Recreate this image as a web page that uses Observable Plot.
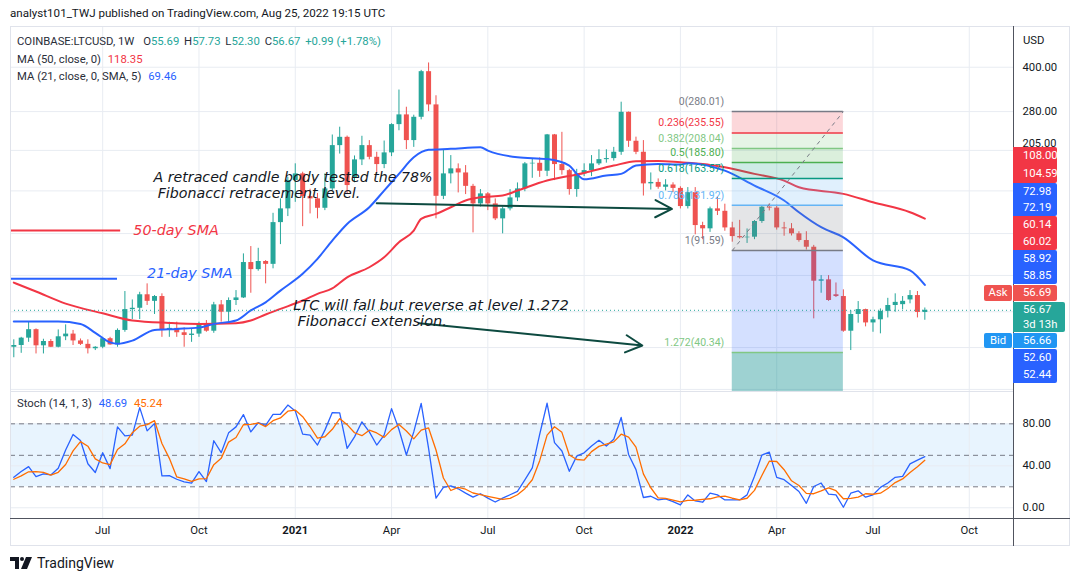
<!DOCTYPE html>
<html>
<head>
<meta charset="utf-8">
<script src="https://cdn.jsdelivr.net/npm/d3@7"></script>
<script src="https://cdn.jsdelivr.net/npm/@observablehq/plot@0.6"></script>
<style>
html,body{margin:0;padding:0;background:#fff;}
#root{position:relative;width:1079px;height:581px;overflow:hidden;background:#fff;font-family:Roboto,"Noto Sans",sans-serif;color:#131722;}
.a{position:absolute;white-space:nowrap;line-height:1;}
.box{position:absolute;color:#fff;display:flex;flex-direction:column;justify-content:space-around;font-size:11.3px;line-height:1;border-radius:0 2px 2px 0;}
.box span{padding-left:10px;}
</style>
</head>
<body>
<div id="root"></div>
<script>
// ---------------- DATA ----------------
const firstWeek = "2020-04-13"; // first weekly bar (Monday)
const open = [
42.1,42.7,45.3,48.5,42.6,44.1,42.1,45.8,46.8,44.3,
43.1,41.6,42.1,45.1,42.9,48.2,57.0,57.6,64.2,60.9,
63.3,48.4,49.0,47.3,46.3,46.8,50.9,47.9,59.2,55.8,
61.3,62.6,83.2,78.6,83.9,82.0,114.7,128.1,160.8,169.7,
141.4,138.8,128.7,150.4,213.0,227.7,165.0,189.9,213.0,193.9,
182.9,200.9,252.2,272.7,221.8,267.5,386.0,295.5,141.7,169.7,
176.7,171.0,153.5,133.3,144.5,133.3,118.2,128.1,139.9,150.4,
183.9,184.8,173.3,232.2,182.9,174.2,149.6,169.7,174.2,183.9,
190.3,191.9,201.9,278.4,220.6,201.9,156.6,158.4,152.4,155.2,
151.0,130.5,146.0,112.0,109.1,128.1,125.6,109.9,102.5,101.5,
102.0,115.7,129.8,128.9,109.9,109.1,104.8,99.3,94.1,71.6,
72.4,64.2,63.3,47.9,54.8,57.0,51.2,52.5,56.2,58.9,
59.3,61.6,63.8,55.69];
const high = [
44.7,45.6,51.5,48.8,44.9,44.8,48.4,50.4,48.2,45.0,
44.7,42.3,45.6,45.6,48.8,65.9,61.6,65.5,70.1,63.8,
64.7,51.5,51.5,49.2,48.8,51.5,52.2,60.4,61.3,62.6,
66.4,89.2,94.6,93.3,84.5,123.6,138.8,165.0,184.0,172.0,
150.0,145.0,169.7,232.0,247.0,230.0,196.0,229.6,221.8,201.9,
221.0,254.0,333.0,290.0,272.0,390.0,414.0,318.0,206.3,196.6,
183.9,181.4,156.0,149.6,146.0,138.8,130.0,149.6,157.8,186.0,
191.9,193.0,233.0,233.0,237.0,176.0,176.0,184.0,196.6,206.0,
206.0,210.0,302.0,279.0,228.0,221.8,171.0,163.0,162.0,158.0,
153.0,152.0,152.0,115.0,129.9,140.6,133.0,115.0,116.8,109.0,
116.6,131.3,133.3,132.0,114.9,113.8,106.6,106.6,95.5,74.9,
74.9,70.6,66.8,56.5,60.8,57.2,53.6,57.3,62.4,64.7,
63.3,66.4,65.9,57.73];
const low = [
38.7,40.1,43.8,39.9,39.9,42.0,41.9,44.4,42.7,42.7,
39.9,41.0,41.6,42.8,42.1,47.5,52.6,52.6,58.9,54.8,
45.6,45.6,45.6,42.1,43.8,45.6,47.5,47.1,51.5,51.5,
58.9,62.3,65.0,77.6,70.1,79.1,96.1,120.4,135.0,111.0,
123.0,118.2,126.3,148.0,199.0,144.0,158.0,181.4,190.0,169.7,
177.0,195.0,240.0,206.3,210.0,262.0,280.0,118.2,138.0,156.6,
145.6,143.7,105.6,130.0,126.3,116.6,104.8,126.0,135.8,147.0,
163.8,165.0,166.0,160.8,168.0,143.0,140.6,166.0,166.0,181.4,
185.0,188.0,197.0,210.0,198.0,142.0,149.0,150.0,148.0,146.0,
128.0,128.0,104.0,100.0,106.0,121.4,107.0,98.0,100.5,97.0,
100.0,114.0,126.0,108.0,102.8,103.0,98.0,92.0,52.9,65.0,
60.9,62.8,47.5,41.0,51.1,49.6,47.5,46.9,53.3,55.8,
56.9,59.7,53.3,52.30];
const close = [
42.7,45.3,48.5,42.6,44.1,42.1,45.8,46.8,44.3,43.1,
41.6,42.1,45.1,42.9,48.2,57.0,57.6,64.2,60.9,63.3,
48.4,49.0,47.3,46.3,46.8,50.9,47.9,59.2,55.8,61.3,
62.6,83.2,78.6,83.9,82.0,114.7,128.1,160.8,169.7,141.4,
138.8,128.7,150.4,213.0,227.7,154.5,189.9,213.0,193.9,182.9,
200.9,252.2,272.7,221.8,267.5,386.0,295.5,141.7,169.7,176.7,
171.0,153.5,133.3,144.5,133.3,118.2,128.1,139.9,150.4,183.9,
184.8,173.3,232.2,182.9,174.2,149.6,169.7,174.2,183.9,190.3,
191.9,201.9,278.4,220.6,201.9,156.6,158.4,152.4,155.2,151.0,
130.5,146.0,112.0,109.1,128.1,125.6,109.9,102.5,101.5,102.0,
115.7,129.8,128.9,109.9,109.1,104.8,99.3,94.1,71.6,72.4,
61.3,63.3,47.9,54.8,57.0,51.2,52.5,56.2,58.9,60.4,
60.9,63.8,55.7,56.67];

// moving averages (week index into the bar list, value)
const ma50Week  = [0,3,7,12,16,21,25,30,32,34,36,39,41,43,45,48,50,52,54,55,57,59,61,63,66,68,72,77,81,84,87,90,93,96,100,104,106,112,116,121,123];
const ma50Value = [70.8,65.9,59.8,55.3,52.2,51.2,50.8,51.1,52.2,54.8,57.3,61.3,64.7,67.6,73.9,80.1,86.8,97.9,107.6,118.2,123,129.8,137,140.6,142.5,148.4,160.8,171,181.4,187.8,188.3,186.3,183.9,178.9,169.7,160.8,152.4,144.5,135,124.6,118.35];
const ma21Week  = [0,6,9,11,13,14,16,19,22,25,27,30,32,34,36,39,41,43,45,48,50,52,54,56,59,63,64,68,72,75,76,77,80,82,84,87,90,91,96,100,104,106,109,112,116,121,123];
const ma21Value = [51.8,51.8,50.8,47.3,43.8,43.3,44.4,48.4,48.8,49.3,50.8,52.2,56.6,60.4,66.4,76,85.7,99.3,113.5,129.8,148.4,169.7,194,205.9,207.5,210.3,204.7,193.9,191.1,181.4,169.7,162.5,167.4,169.7,181.4,183.9,182.9,185,174.2,154.5,137,124.6,110.5,101.9,84.6,78.1,69.46];

// Stochastic (14,1,3)
const stochK = [
29.1,34.5,39.2,29.8,32.3,31.3,37.7,55,69.9,64.1,
42,33.6,52.5,37.3,77.1,68.6,69.2,95.4,73.3,80.3,
30.4,30.7,27.2,24.7,23.5,34.5,25,63.9,52.5,71.4,
77.1,88.8,72.3,81.2,78.6,89.1,89.1,97.9,92.3,70.2,
69.2,59.8,74,90.7,90.4,56.6,67.6,81.9,72.3,59.8,
69.2,94.5,74.6,50.3,72.3,99.5,56.6,9.2,19.4,20.9,
18.1,14,10.2,13.4,9.2,5.5,9.2,12.4,15.6,26.6,
38,70,99.6,62.1,54.1,34.8,49.2,52.4,58.9,64.3,
58.9,65.3,86.1,50.8,36.4,9.8,11,7.5,8.5,5.9,
2.7,12.3,6.5,5.3,13.9,12.3,7.5,7.5,7.5,12.3,
30,50.2,53.1,29,26.8,21.3,15.5,4.3,20.3,23.6,
13,12.3,0.5,13.9,16.2,10.1,12.3,19.4,23.6,29,
30,41.8,45.4,48.69];
const stochD = [
27.2,30.4,34.3,34.5,33.8,31.1,33.8,41.3,54.2,63,
58.7,46.6,42.7,41.1,55.6,61,71.6,77.7,79.3,83,
61.3,47.1,29.4,27.5,25.1,27.6,27.7,41.1,47.1,62.6,
67,79.1,79.4,80.8,77.4,83,85.6,92,93.1,86.8,
77.2,66.4,67.7,74.8,85,79.2,71.5,68.7,73.9,71.3,
67.1,74.5,79.4,73.1,65.7,74,76.1,55.1,28.4,16.5,
19.5,17.7,14.1,12.5,10.9,9.4,8,9,12.4,18.2,
26.7,44.9,69.2,77.2,71.9,50.3,46,45.5,53.5,58.5,
60.7,62.8,70.1,67.4,57.8,32.3,19.1,9.4,9,7.3,
5.7,7,7.2,8,8.6,10.5,11.2,9.1,7.5,9.1,
16.6,30.8,44.4,44.1,36.3,25.7,21.2,13.7,13.4,16.1,
19,16.3,8.6,8.9,10.2,13.4,12.9,13.9,18.4,24,
27.5,33.6,39.1,45.24];

// axes
const tickDates  = ["2020-07-06","2020-10-05","2021-01-04","2021-04-05","2021-07-05","2021-10-04","2022-01-03","2022-04-04","2022-07-04","2022-10-03"];
const tickLabels = ["Jul","Oct","2021","Apr","Jul","Oct","2022","Apr","Jul","Oct"];
const priceTicks = [400, 280];
const partlyHiddenTick = [205];
const priceGrid  = [30, 42, 56, 75, 105, 148, 205, 280, 400];
const stochTicks = [0, 40, 80];
const stochBands = [80, 50, 20];

// Fibonacci retracement drawing
const fibStart  = "2022-02-21", fibEnd = "2022-06-06";
const fibLevels = [0, 0.236, 0.382, 0.5, 0.618, 0.786, 1, 1.272];
const fibPrices = [280.01, 235.55, 208.04, 185.80, 163.57, 131.92, 91.59, 40.34];
const fibColors = ["#787b86","#f23645","#81c784","#4caf50","#089981","#64b5f6","#787b86","#81c784"];
const fibZoneColors = ["#f23645","#81c784","#4caf50","#089981","#64b5f6","#787b86","#2962ff","#0c8f8f"];

// author's drawings
const noteTexts  = ["A retraced candle body tested the 78%","Fibonacci retracement level.","LTC will fall but reverse at level 1.272","Fibonacci extension."];
const noteDates  = ["2020-08-23","2020-08-27","2021-01-02","2021-01-06"];
const notePrices = [164.7, 145.3, 58.9, 51.8];
const arrowFrom = ["2021-03-22","2021-05-01"], arrowFromPrice = [133.9, 51.1];
const arrowTo   = ["2021-12-26","2021-11-28"], arrowToPrice   = [128.0, 42.7];
const smaNotes = ["50-day SMA","21-day SMA"];
const smaNoteColors = ["#f23645","#2962ff"];
const smaNoteLinePrice = [107.6, 73.0];
const smaNoteLineEnd = ["2020-07-23","2020-07-20"];
const smaNoteDates = ["2020-08-04","2020-08-17"];
const smaNotePrices = [107.6, 76.0];

const lastPrice = 56.67;

// ---------------- BUILD ----------------
const DAY = 864e5, WEEK = 7*DAY;
const t0 = new Date(firstWeek).getTime();
const weekDate = i => new Date(t0 + i*WEEK);
const xDomain = [weekDate(-0.4455), weekDate(134.97)];
const yMin = 29.5, yMax = 555;
const up = "#26a69a", down = "#ef5350";
const grid = "#e8ecf2";
const uiFont = "Roboto, 'Noto Sans', sans-serif";

const bars = open.map((o,i)=>({date: weekDate(i), open:o, high:high[i], low:low[i], close:close[i], color: close[i]>=o ? up : down}));
const ma50 = ma50Week.map((w,i)=>({date: weekDate(w), v: ma50Value[i]}));
const ma21 = ma21Week.map((w,i)=>({date: weekDate(w), v: ma21Value[i]}));
const fs = new Date(fibStart), fe = new Date(fibEnd);
const fibData = fibLevels.map((l,k)=>({level:l, price:fibPrices[k], color:fibColors[k]}));
const fibZones = fibPrices.map((p,k)=>({top: k===0 ? null : fibPrices[k-1], bottom: p, color: fibZoneColors[k-1], op: 0.2})).slice(1);
fibZones.push({top: fibPrices[fibPrices.length-1], bottom: yMin, color: fibZoneColors[7], op: 0.4});
const ticks = tickDates.map((d,i)=>({date:new Date(d), label:tickLabels[i], year: /^\d{4}$/.test(tickLabels[i])}));
const notes = noteTexts.map((t,i)=>({text:t, date:new Date(noteDates[i]), price:notePrices[i]}));
const arrows = arrowFrom.map((d,i)=>({x1:new Date(d), y1:arrowFromPrice[i], x2:new Date(arrowTo[i]), y2:arrowToPrice[i]}));
const smaLines = smaNotes.map((t,i)=>({x1:xDomain[0], x2:new Date(smaNoteLineEnd[i]), y:smaNoteLinePrice[i], color:smaNoteColors[i]}));
const smaTexts = smaNotes.map((t,i)=>({text:t, date:new Date(smaNoteDates[i]), price:smaNotePrices[i], color:smaNoteColors[i]}));

const mainPlot = Plot.plot({
  width: 1079, height: 365, marginLeft: 10, marginRight: 66, marginTop: 0, marginBottom: 0,
  x: {type: "utc", domain: xDomain, axis: null},
  y: {type: "log", domain: [yMin, yMax], axis: null},
  color: {type: "identity"},
  style: {fontFamily: uiFont, background: "transparent", overflow: "visible"},
  marks: [
    Plot.gridY(priceGrid, {stroke: grid, strokeOpacity: 1}),
    Plot.gridX(ticks.map(d=>d.date), {stroke: grid, strokeOpacity: 1}),
    Plot.ruleY(smaLines, {y: "y", x1: "x1", x2: "x2", stroke: "color", strokeWidth: 2}),
    Plot.ruleX(bars, {x: "date", y1: "low", y2: "high", stroke: "color", strokeWidth: 1}),
    Plot.ruleX(bars, {x: "date", y1: "open", y2: "close", stroke: "color", strokeWidth: 5}),
    Plot.line(ma50, {x: "date", y: "v", stroke: "#f23645", strokeWidth: 2, curve: "monotone-x"}),
    Plot.line(ma21, {x: "date", y: "v", stroke: "#2962ff", strokeWidth: 2, curve: "monotone-x"}),
    Plot.rect(fibZones, {x1: () => fs, x2: () => fe, y1: "top", y2: "bottom", fill: "color", fillOpacity: "op"}),
    Plot.ruleY(fibData, {y: "price", x1: () => fs, x2: () => fe, stroke: "color", strokeWidth: 1.5}),
    Plot.text(fibData, {x: () => fs, y: "price", text: d => `${d.level}(${d.price.toFixed(2)})`, textAnchor: "end", dx: -8, dy: -10, fill: "color", fontSize: 10.5}),
    Plot.link([{x1: fs, y1: fibPrices[6], x2: fe, y2: fibPrices[0]}], {x1: "x1", y1: "y1", x2: "x2", y2: "y2", stroke: "#787b86", strokeDasharray: "4,4", strokeWidth: 1}),
    Plot.ruleY([lastPrice], {stroke: up, strokeDasharray: "1,3", strokeWidth: 1}),
    Plot.arrow(arrows, {x1: "x1", y1: "y1", x2: "x2", y2: "y2", stroke: "#0d4a40", strokeWidth: 2, headLength: 14, headAngle: 55}),
    Plot.text(notes.slice(0,2), {x: "date", y: "price", text: "text", textAnchor: "start", fontFamily: "'DejaVu Sans', sans-serif", fontStyle: "italic", fontSize: 14.2, fill: "#131722"}),
    Plot.text(notes.slice(2), {x: "date", y: "price", text: "text", textAnchor: "start", fontFamily: "'DejaVu Sans', sans-serif", fontStyle: "italic", fontSize: 14.6, fill: "#131722"}),
    Plot.text(smaTexts, {x: "date", y: "price", text: "text", textAnchor: "start", fontFamily: "'DejaVu Sans', sans-serif", fontStyle: "italic", fontSize: 14.3, fill: "color"}),
    Plot.axisY(priceTicks, {anchor: "right", tickSize: 0, tickPadding: 9, tickFormat: d => d.toFixed(2), fontSize: 11.3, fill: "#131722"}),
    Plot.axisY(partlyHiddenTick, {anchor: "right", tickSize: 0, tickPadding: 9, dy: -7, tickFormat: d => d.toFixed(2), fontSize: 11, fill: "#131722"})
  ]
});

const kData = stochK.map((v,i)=>({date: weekDate(i), v}));
const dData = stochD.map((v,i)=>({date: weekDate(i), v}));
const stochPlot = Plot.plot({
  width: 1079, height: 154, marginLeft: 10, marginRight: 66, marginTop: 0, marginBottom: 27,
  x: {type: "utc", domain: xDomain, axis: null},
  y: {domain: [-10.2, 110.8], axis: null},
  style: {fontFamily: uiFont, background: "transparent", overflow: "visible"},
  marks: [
    Plot.rect([{y1: stochBands[2], y2: stochBands[0]}], {x1: () => xDomain[0], x2: () => xDomain[1], y1: "y1", y2: "y2", fill: "#2196f3", fillOpacity: 0.1}),
    Plot.gridY(stochTicks, {stroke: grid, strokeOpacity: 1}),
    Plot.gridX(ticks.map(d=>d.date), {stroke: grid, strokeOpacity: 1}),
    Plot.ruleY(stochBands, {stroke: "#787b86", strokeDasharray: "5,4", strokeWidth: 1}),
    Plot.line(kData, {x: "date", y: "v", stroke: "#2962ff", strokeWidth: 1.3}),
    Plot.line(dData, {x: "date", y: "v", stroke: "#ff6d00", strokeWidth: 1.3}),
    Plot.axisY(stochTicks, {anchor: "right", tickSize: 0, tickPadding: 9, tickFormat: d => d.toFixed(2), fontSize: 11.3, fill: "#131722"}),
    Plot.text(ticks.filter(d=>!d.year), {x: "date", text: "label", frameAnchor: "bottom", dy: 15, fontSize: 11.3, fill: "#131722"}),
    Plot.text(ticks.filter(d=>d.year), {x: "date", text: "label", frameAnchor: "bottom", dy: 15, fontSize: 11.3, fontWeight: "bold", fill: "#131722"})
  ]
});

// ---------------- LAYOUT ----------------
const root = document.getElementById("root");
function el(html, style) { const d = document.createElement("div"); d.className = "a"; d.innerHTML = html; Object.assign(d.style, style); root.appendChild(d); return d; }
function line(l, t, w, h, c) { el("", {left: l+"px", top: t+"px", width: w+"px", height: h+"px", background: c}); }

el("analyst101_TWJ published on TradingView.com, Aug 25, 2022 19:15 UTC", {left: "10px", top: "8px", fontSize: "11.6px"});

const m = el("", {left: "0px", top: "26px"}); m.appendChild(mainPlot);
const s = el("", {left: "0px", top: "391px"}); s.appendChild(stochPlot);

// frame
line(10, 26, 1060, 1, "#e0e3eb");
line(10, 545, 1060, 1, "#e0e3eb");
line(10, 26, 1, 520, "#e0e3eb");
line(1069, 26, 1, 520, "#e0e3eb");
line(10, 391, 1003, 1, "#e0e3eb");
line(10, 518, 1060, 1, "#50535e");
line(1013, 26, 1, 520, "#50535e");

// legends
const teal = "#26a69a";
el(`COINBASE:LTCUSD, 1W <span style="margin-left:6px">O</span><span style="color:${teal}">${open[123].toFixed(2)}</span>
 <span style="margin-left:2px">H</span><span style="color:${teal}">${high[123].toFixed(2)}</span>
 <span style="margin-left:2px">L</span><span style="color:${teal}">${low[123].toFixed(2)}</span>
 <span style="margin-left:2px">C</span><span style="color:${teal}">${close[123].toFixed(2)}</span>
 <span style="color:${teal};margin-left:2px">+0.99 (+1.78%)</span>`, {left: "17px", top: "36px", fontSize: "11.3px", color: "#2a2e39"});
el(`MA (50, close, 0) <span style="color:#f23645;margin-left:4px">${ma50Value[ma50Value.length-1].toFixed(2)}</span>`, {left: "17px", top: "54px", fontSize: "11.3px", color: "#2a2e39"});
el(`MA (21, close, 0, SMA, 5) <span style="color:#2962ff;margin-left:4px">${ma21Value[ma21Value.length-1].toFixed(2)}</span>`, {left: "17px", top: "71px", fontSize: "11.3px", color: "#2a2e39"});
el(`Stoch (14, 1, 3) <span style="color:#2962ff;margin-left:4px">${stochK[123].toFixed(2)}</span> <span style="color:#ff6d00;margin-left:4px">${stochD[123].toFixed(2)}</span>`, {left: "17px", top: "398px", fontSize: "11.3px", color: "#2a2e39"});
el("USD", {left: "1023px", top: "35px", fontSize: "11.3px"});

// price tags on the price axis
const tagBoxes = [
  {bg: "#f23645", top: 147, h: 36, w: 44, texts: ["108.00","104.59"]},
  {bg: "#2962ff", top: 183, h: 33, w: 44, texts: ["72.98","72.19"]},
  {bg: "#f23645", top: 216, h: 34, w: 44, texts: ["60.14","60.02"]},
  {bg: "#2962ff", top: 250, h: 34, w: 44, texts: ["58.92","58.85"]},
  {bg: "#ef5350", top: 285, h: 16, w: 44, texts: ["56.69"]},
  {bg: "#26a69a", top: 302, h: 30, w: 52, texts: ["56.67","3d 13h"]},
  {bg: "#2196f3", top: 333, h: 15, w: 44, texts: ["56.66"]},
  {bg: "#2962ff", top: 349, h: 34, w: 44, texts: ["52.60","52.44"]}
];
for (const b of tagBoxes) {
  const d = document.createElement("div");
  d.className = "box";
  Object.assign(d.style, {left: "1013px", top: b.top+"px", width: b.w+"px", height: b.h+"px", background: b.bg});
  d.innerHTML = b.texts.map(t=>`<span>${t}</span>`).join("");
  root.appendChild(d);
}
const sideLabels = [{t: "Ask", bg: "#ef5350", top: 285, h: 16}, {t: "Bid", bg: "#2196f3", top: 333, h: 15}];
for (const b of sideLabels) {
  el(b.t, {left: "984px", top: b.top+"px", width: "28px", height: b.h+"px", background: b.bg, color: "#fff", fontSize: "11.3px", display: "flex", alignItems: "center", justifyContent: "center", borderRadius: "2px"});
}

// footer
el(`<svg width="22" height="12" viewBox="0 0 22 12" style="vertical-align:middle"><path d="M0 0h9v12H5V4H0z" fill="#131722"/><circle cx="12" cy="2" r="2" fill="#131722"/><path d="M16 0h6l-5 12h-6z" fill="#131722"/></svg><span style="margin-left:5px;vertical-align:middle">TradingView</span>`, {left: "10px", top: "555px", fontSize: "14px", color: "#131722"});
</script>
</body>
</html>
